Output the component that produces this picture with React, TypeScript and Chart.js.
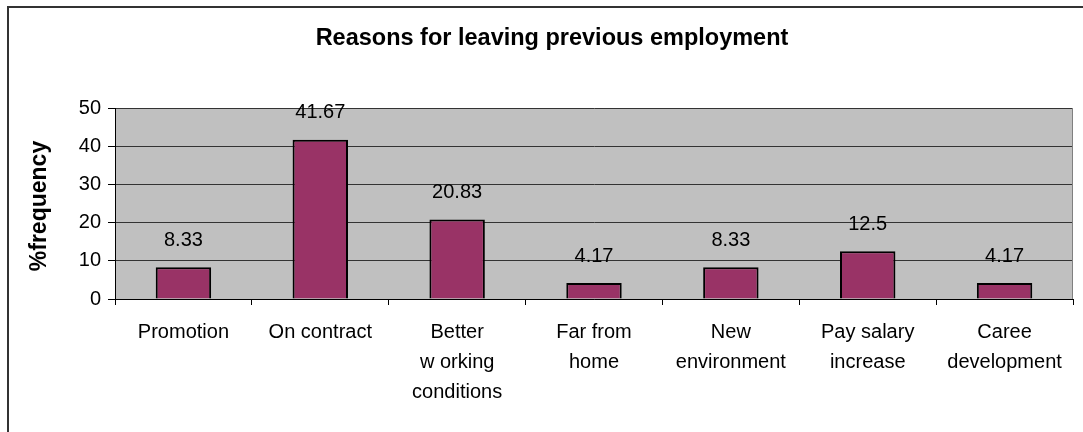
import React, { useEffect, useRef } from "react";
import { Chart, registerables } from "chart.js";

Chart.register(...registerables);

const categories: string[][] = [
  ["Promotion"],
  ["On contract"],
  ["Better", "w orking", "conditions"],
  ["Far from", "home"],
  ["New", "environment"],
  ["Pay salary", "increase"],
  ["Caree", "development"],
];
const values: number[] = [8.33, 41.67, 20.83, 4.17, 8.33, 12.5, 4.17];
const valueLabels: string[] = ["8.33", "41.67", "20.83", "4.17", "8.33", "12.5", "4.17"];
const chartTitle = "Reasons for leaving previous employment";
const yAxisTitle = "%frequency";

const FONT = "'Liberation Sans', Arial, sans-serif";

const decorPlugin = {
  id: "decor",
  beforeDraw(chart: any) {
    const { ctx, chartArea } = chart;
    ctx.save();
    ctx.fillStyle = "#ffffff";
    ctx.fillRect(0, 0, chart.width, chart.height);
    ctx.fillStyle = "#C0C0C0";
    ctx.fillRect(chartArea.left, chartArea.top, chartArea.right - chartArea.left, chartArea.bottom - chartArea.top);
    ctx.restore();
  },
  afterDraw(chart: any) {
    const { ctx, chartArea } = chart;
    ctx.save();
    // outer border
    ctx.strokeStyle = "#333333";
    ctx.lineWidth = 2;
    ctx.strokeRect(8, 7, chart.width + 50, chart.height + 50);
    // plot right border
    ctx.strokeStyle = "#808080";
    ctx.lineWidth = 1;
    ctx.beginPath();
    ctx.moveTo(chartArea.right - 0.5, chartArea.top);
    ctx.lineTo(chartArea.right - 0.5, chartArea.bottom);
    ctx.stroke();
    // title
    ctx.fillStyle = "#000";
    ctx.font = `bold 23.5px ${FONT}`;
    ctx.textAlign = "center";
    ctx.textBaseline = "alphabetic";
    ctx.fillText(chartTitle, 552, 45);
    // y axis title
    ctx.font = `bold 23px ${FONT}`;
    ctx.translate(40, 206);
    ctx.rotate(-Math.PI / 2);
    ctx.textBaseline = "middle";
    ctx.fillText(yAxisTitle, 0, 0);
    ctx.restore();

    // data labels
    const meta = chart.getDatasetMeta(0);
    ctx.save();
    ctx.fillStyle = "#000";
    ctx.font = `20px ${FONT}`;
    ctx.textAlign = "center";
    ctx.textBaseline = "middle";
    meta.data.forEach((bar: any, i: number) => {
      ctx.fillText(valueLabels[i], bar.x, bar.y - 27);
    });
    ctx.restore();
  },
};

export default function App() {
  const ref = useRef<HTMLCanvasElement | null>(null);
  useEffect(() => {
    if (!ref.current) return;
    const chart = new Chart(ref.current, {
      type: "bar",
      data: {
        labels: categories,
        datasets: [
          {
            data: values,
            backgroundColor: "#993366",
            borderColor: "#000000",
            borderWidth: 2,
            barPercentage: 0.405,
            categoryPercentage: 1,
          },
        ],
      },
      options: {
        animation: false,
        responsive: false,
        maintainAspectRatio: false,
        layout: { padding: { left: 0, top: 108, right: 10, bottom: 0 } },
        plugins: {
          legend: { display: false },
          title: { display: false },
          tooltip: { enabled: false },
        },
        scales: {
          x: {
            grid: {
              offset: true,
              drawOnChartArea: false,
              drawTicks: true,
              tickLength: 6,
              tickColor: "#000",
            },
            border: { color: "#000", width: 1 },
            ticks: {
              color: "#000",
              font: { family: FONT, size: 20, lineHeight: 1.5 },
              padding: 12,
              maxRotation: 0,
              autoSkip: false,
            },
            afterFit(scale: any) {
              scale.height = 133;
            },
          },
          y: {
            min: 0,
            max: 50,
            grid: {
              color: "#333333",
              lineWidth: 1,
              tickLength: 7,
              tickColor: "#000",
            },
            border: { color: "#000", width: 1 },
            ticks: {
              stepSize: 10,
              color: "#000",
              font: { family: FONT, size: 20 },
              padding: 7,
            },
            afterFit(scale: any) {
              scale.width = 115;
            },
          },
        },
      },
      plugins: [decorPlugin],
    });
    return () => chart.destroy();
  }, []);
  return (
    <div style={{ position: "absolute", left: 0, top: 0, width: 1083, height: 432 }}>
      <canvas ref={ref} width={1083} height={432} style={{ width: 1083, height: 432 }} />
    </div>
  );
}
